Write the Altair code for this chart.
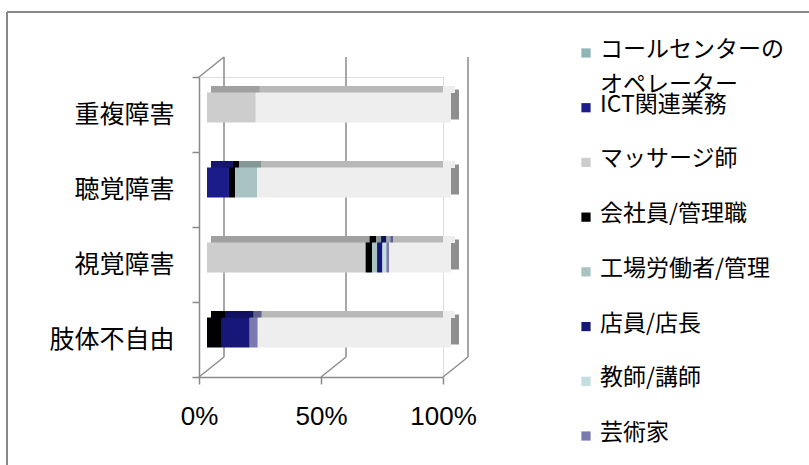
import altair as alt
import pandas as pd

categories = ["重複障害", "聴覚障害", "視覚障害", "肢体不自由"]
series = ["コールセンターのオペレーター", "ICT関連業務", "マッサージ師", "会社員/管理職",
          "工場労働者/管理", "店員/店長", "教師/講師", "芸術家", "その他"]
legend_series = series[:8]
legend_labels = ["コールセンターの\nオペレーター", "ICT関連業務", "マッサージ師", "会社員/管理職",
                 "工場労働者/管理", "店員/店長", "教師/講師", "芸術家"]
colors = ["#8fb5b8", "#1b1b8a", "#cdcdcd", "#000000", "#a9c2c2", "#17177a",
          "#c2dede", "#7a7ab0", "#eeeeee"]

v_jufuku = [0, 0, 20, 0, 0, 0, 0, 0, 80]
v_chokaku = [0, 9, 0, 2.5, 9, 0, 0, 0, 79.5]
v_shikaku = [0, 0, 65, 2.7, 2, 2.2, 1.6, 1.1, 25.4]
v_shitai = [0, 0, 0, 6.1, 0, 11.4, 0, 3.3, 79.2]
grid_vals = [0, 50, 100]

rows = []
for cat, vals in zip(categories, [v_jufuku, v_chokaku, v_shikaku, v_shitai]):
    for i, (s, v) in enumerate(zip(series, vals)):
        rows.append({"category": cat, "series": s, "value": v, "idx": i})
df = pd.DataFrame(rows)
grid_df = pd.DataFrame({"g": grid_vals})
cat_df = pd.DataFrame({"category": categories})
leg_df = pd.DataFrame({"series": legend_series, "label": legend_labels})
one = pd.DataFrame({"a": [0]})

LINE = "#8a8a8a"
JP = "Noto Sans CJK JP"

xscale = alt.Scale(domain=[0, 100], nice=False)
yenc = alt.Y("category:N", sort=categories,
             scale=alt.Scale(paddingInner=0, paddingOuter=0),
             axis=alt.Axis(title=None, tickBand="extent", labelFont=JP, labelFontSize=25,
                           labelColor="#000", labelPadding=18, tickSize=7,
                           domainColor=LINE, tickColor=LINE, domainWidth=1.5, tickWidth=1.5))

cscale = alt.Scale(domain=series, range=colors)
color = alt.Color("series:N", scale=cscale, legend=None)

xenc = alt.X("value:Q", stack="zero", scale=xscale,
             axis=alt.Axis(title=None, values=grid_vals, labelExpr="datum.value + '%'",
                           grid=False, labelFlush=False, labelFont="Liberation Sans",
                           labelFontSize=26, labelColor="#000", labelPadding=19, tickSize=7,
                           domainColor=LINE, tickColor=LINE, domainWidth=1.5, tickWidth=1.5))

# frame (top and left border)
frame_top = alt.Chart(one).mark_rule(color="#888888", strokeWidth=2).encode(
    x=alt.value(-192), x2=alt.value(610), y=alt.value(-65))
frame_left = alt.Chart(one).mark_rule(color="#888888", strokeWidth=2).encode(
    x=alt.value(-192), y=alt.value(-65), y2=alt.value(390))

# back-wall gridlines
back_grid = alt.Chart(grid_df).mark_rule(color=LINE, strokeWidth=1.5, xOffset=25).encode(
    x=alt.X("g:Q", scale=xscale), y=alt.value(-20), y2=alt.value(280))
floor_diag = alt.Chart(grid_df).mark_rule(color=LINE, strokeWidth=1.5, x2Offset=25).encode(
    x=alt.X("g:Q", scale=xscale), x2="g:Q", y=alt.value(300), y2=alt.value(280))
wall_diag = alt.Chart(one).mark_rule(color=LINE, strokeWidth=1.5, x2Offset=25).encode(
    x=alt.datum(0, scale=xscale), x2=alt.datum(0), y=alt.value(0), y2=alt.value(-20))

# bar side face (right end)
side = alt.Chart(cat_df).mark_bar(size=30, yOffset=-10, xOffset=8, x2Offset=16,
                                  color="#8e8e8e").encode(
    y=yenc, x=alt.datum(100, scale=xscale), x2=alt.datum(100))

# top face strip
top = alt.Chart(df).mark_bar(size=7, yOffset=-25, xOffset=12).encode(
    y=yenc, x=xenc, color=color, order=alt.Order("idx:Q"))
top_shade = alt.Chart(cat_df).mark_bar(size=7, yOffset=-25, xOffset=12, color="#000",
                                       opacity=0.22).encode(
    y=yenc, x=alt.datum(0, scale=xscale), x2=alt.datum(100))

# front faces
bars = alt.Chart(df).mark_bar(size=30, yOffset=-7, xOffset=8).encode(
    y=yenc, x=xenc, color=color, order=alt.Order("idx:Q"))

main = alt.layer(frame_top, frame_left, back_grid, floor_diag, wall_diag,
                 side, top, top_shade, bars)

# legend drawn as marks
ly = alt.Y("series:N", sort=legend_series,
           scale=alt.Scale(type="point", domain=legend_series, range=[-24, 359], padding=0),
           axis=None)
leg_sym = alt.Chart(leg_df).mark_square(size=85, opacity=1, strokeWidth=0).encode(
    y=ly, x=alt.value(387), color=color)
leg_txt = alt.Chart(leg_df).mark_text(align="left", baseline="top", dy=-14, font=JP,
                                      fontSize=23, lineBreak="\n", lineHeight=35,
                                      color="#000").encode(
    y=ly, x=alt.value(401), text="label:N")
legend = alt.layer(leg_sym, leg_txt)

chart = alt.layer(main, legend).resolve_scale(y="independent").properties(
    width=244, height=300,
    autosize=alt.AutoSizeParams(type="none"),
    padding={"left": 199, "top": 77, "right": 366, "bottom": 88},
).configure_view(stroke=None).configure(background="white")

chart.save("out.html", embed_options={"renderer": "svg", "actions": False})
